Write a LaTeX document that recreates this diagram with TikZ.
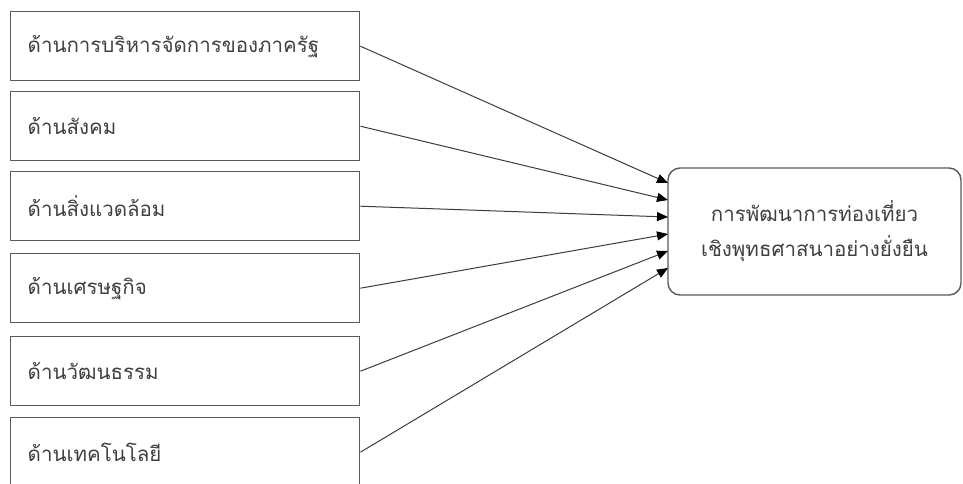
\documentclass[tikz,border=0pt]{standalone}
\usepackage{fontspec}
\newfontfamily\thaifont[Script=Thai]{Loma}
\usetikzlibrary{arrows.meta}
\definecolor{edgegray}{HTML}{5A5A5A}
\definecolor{linegray}{HTML}{3C3C3C}
\definecolor{txtgray}{HTML}{404040}
\tikzset{
  leftbox/.style={draw=edgegray, line width=1.4pt, minimum height=69pt,
    text width=315pt, inner xsep=17pt, align=left, anchor=north west,
    font=\thaifont\fontsize{20.5}{24}\selectfont, text=txtgray},
  goalbox/.style={draw=edgegray, line width=1.4pt, rounded corners=12pt,
    minimum width=293pt, minimum height=127pt, align=center,
    font=\thaifont\fontsize{20.5}{35}\selectfont, text=txtgray},
  conn/.style={draw=linegray, line width=1pt,
    -{Triangle[length=11pt,width=9pt,color=black]}}
}
\begin{document}
\begin{tikzpicture}[x=1pt,y=-1pt]
\useasboundingbox[fill=white] (0,0) rectangle (963,483);
\node[leftbox] (a1) at (10,11) {ด้านการบริหารจัดการของภาครัฐ};
\node[leftbox] (a2) at (10,91) {ด้านสังคม};
\node[leftbox] (a3) at (10,171) {ด้านสิ่งแวดล้อม};
\node[leftbox] (a4) at (10,253) {ด้านเศรษฐกิจ};
\node[leftbox] (a5) at (10,336) {ด้านวัฒนธรรม};
\node[leftbox] (a6) at (10,417) {ด้านเทคโนโลยี};
\node[goalbox] (g) at (814.5,231.5) {การพัฒนาการท่องเที่ยว\\เชิงพุทธศาสนาอย่างยั่งยืน};
\coordinate (t1) at (668,183);
\coordinate (t2) at (668,200);
\coordinate (t3) at (668,217);
\coordinate (t4) at (668,234);
\coordinate (t5) at (668,251);
\coordinate (t6) at (668,268);
\draw[conn] (a1.east) -- (t1);
\draw[conn] (a2.east) -- (t2);
\draw[conn] (a3.east) -- (t3);
\draw[conn] (a4.east) -- (t4);
\draw[conn] (a5.east) -- (t5);
\draw[conn] (a6.east) -- (t6);
\end{tikzpicture}
\end{document}
